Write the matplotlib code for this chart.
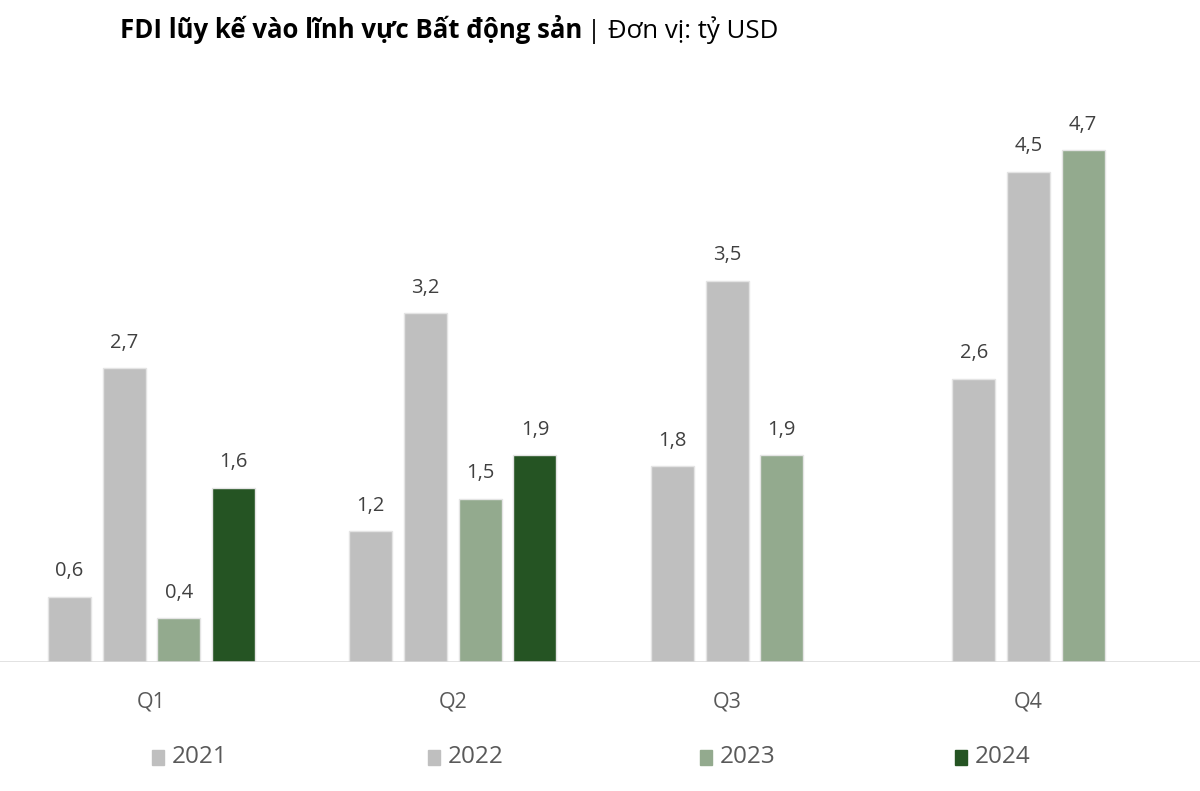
"""
FDI lũy kế vào lĩnh vực Bất động sản theo quý, 2021-2024.
Xuất ra out.png (1200x791).
"""

import matplotlib.pyplot as plt
from matplotlib.patches import Rectangle
import numpy as np

plt.rcParams["font.family"] = ["Open Sans", "DejaVu Sans"]

# ---- dữ liệu ----
quarters = ["Q1", "Q2", "Q3", "Q4"]
years = ["2021", "2022", "2023", "2024"]
v2021 = [0.6, 1.2, 1.8, 2.6]
v2022 = [2.7, 3.2, 3.5, 4.5]
v2023 = [0.4, 1.5, 1.9, 4.7]
v2024 = [1.6, 1.9, None, None]
series = [v2021, v2022, v2023, v2024]
colors = ["#bfbfbf", "#bfbfbf", "#93aa8e", "#255423"]

TEXT = "#404040"
SLOT = 0.1814
WIDTH = 0.1426

fig = plt.figure(figsize=(12, 7.91), dpi=100)
ax = fig.add_axes([0, 129 / 791, 1, 572 / 791])

tick_pos = []
for qi in range(len(quarters)):
    used = []
    for si, vals in enumerate(series):
        v = vals[qi]
        if v is None:
            continue
        xp = qi + (si - 1.5) * SLOT
        used.append(xp)
        ax.bar(xp, v, width=WIDTH, color=colors[si], edgecolor="#e4e4e4",
               linewidth=1, zorder=2)
        ax.text(xp, v + 0.14, f"{v:.1f}".replace(".", ","), ha="center",
                va="bottom", fontsize=14.5, color=TEXT)
    tick_pos.append(np.mean(used))

ax.set_xlim(-0.502, 3.478)
ax.set_ylim(0, 5.25)
ax.axhline(0, color="#d9d9d9", lw=1.8, zorder=3)
for s in ax.spines.values():
    s.set_visible(False)
ax.set_yticks([])
ax.set_xticks(tick_pos)
ax.set_xticklabels(quarters, fontsize=15.5, color="#595959")
ax.tick_params(axis="x", length=0, pad=21)

# ---- tiêu đề ----
t1 = fig.text(120 / 1200, 1 - 30 / 791, "FDI lũy kế vào lĩnh vực Bất động sản",
              fontsize=18.5, fontweight="bold", color="black", va="center")
fig.canvas.draw()
bb = t1.get_window_extent()
fig.text(bb.x1 / 1200 + 0.004, 1 - 30 / 791, "| Đơn vị: tỷ USD",
         fontsize=18.5, color="black", va="center")

# ---- chú thích ----
leg_x = [152, 428, 700, 955]
for lx, yr, c in zip(leg_x, years, colors):
    fig.patches.append(Rectangle((lx / 1200, 1 - 765 / 791), 12 / 1200, 15 / 791,
                                 transform=fig.transFigure, color=c))
    fig.text((lx + 20) / 1200, 1 - 757 / 791, yr, fontsize=17.5,
             color="#595959", va="center")

fig.savefig("out.png", dpi=100)
